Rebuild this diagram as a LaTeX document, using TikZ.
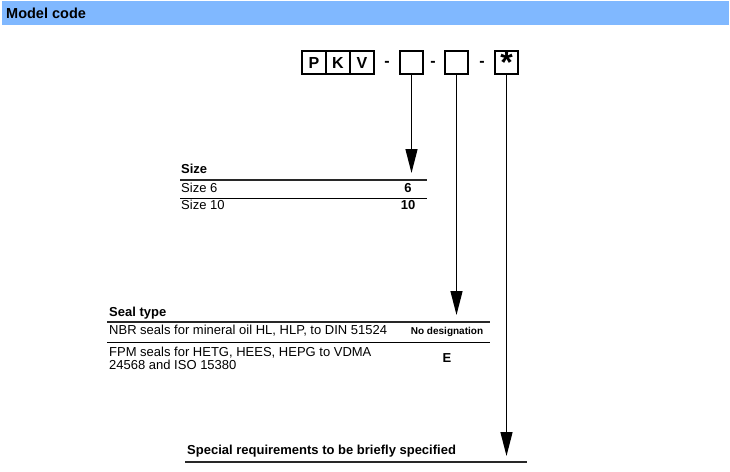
\documentclass[tikz,border=0pt]{standalone}
\usepackage{fontspec}
\setmainfont{Liberation Sans}
\usetikzlibrary{arrows.meta}
\definecolor{hdr}{RGB}{128,184,255}
\definecolor{rule}{RGB}{40,40,40}
\tikzset{
  txt/.style={anchor=base west, inner sep=0pt, font=\fontsize{13}{13}\selectfont},
  btxt/.style={anchor=base west, inner sep=0pt, font=\bfseries\fontsize{13}{13}\selectfont},
  ctxt/.style={anchor=base, inner sep=0pt, font=\bfseries\fontsize{13}{13}\selectfont},
  codebox/.style={draw, line width=1.1pt, minimum width=24pt, minimum height=23pt, inner sep=0pt, font=\bfseries\fontsize{16}{16}\selectfont},
  sep/.style={inner sep=0pt, font=\bfseries\fontsize{16}{16}\selectfont},
  headrule/.style={draw=rule, line width=1.4pt},
  rowrule/.style={draw=black, line width=0.9pt},
  arr/.style={line width=1.3pt, -{Triangle[length=24pt, width=12pt]}}
}
\begin{document}
\begin{tikzpicture}[x=1pt,y=-1pt]
\useasboundingbox (0,0) rectangle (730,471);
\fill[hdr] (2,1) rectangle (729,25);
\node[anchor=base west, inner sep=0pt, font=\bfseries\fontsize{14.5}{14.5}\selectfont] (title) at (6,18.5) {Model code};

% code boxes
\node[codebox] (p) at (314,62.5) {P};
\node[codebox] (k) at (338,62.5) {K};
\node[codebox] (v) at (362,62.5) {V};
\node[sep] (d1) at (387,64) {-};
\node[codebox, minimum width=23pt] (b1) at (411.5,62.5) {};
\node[sep] (d2) at (433,64) {-};
\node[codebox, minimum width=23pt] (b2) at (456.5,62.5) {};
\node[sep] (d3) at (482,64) {-};
\node[codebox, minimum width=23pt, font=\bfseries\fontsize{32}{32}\selectfont] (b3) at (506.5,62.5) {\raisebox{-10pt}{*}};

% size table
\node[btxt] (sizeh) at (181,173) {Size};
\draw[headrule] (180,180) -- (427,180);
\node[txt] (s6) at (181,192) {Size 6};
\node[ctxt] (v6) at (408,192) {6};
\draw[rowrule] (180,198) -- (427,198);
\node[txt] (s10) at (181,209.5) {Size 10};
\node[ctxt] (v10) at (408,209.5) {10};
\coordinate (t1) at (411.5,173);

% seal table
\node[btxt] (sealh) at (109,316) {Seal type};
\draw[headrule] (107,322) -- (490,322);
\node[txt] (nbr) at (109,334.5) {NBR seals for mineral oil HL, HLP, to DIN 51524};
\node[anchor=base, inner sep=0pt, font=\bfseries\fontsize{10}{10}\selectfont] (nodes) at (447,334.5) {No designation};
\draw[rowrule] (107,342) -- (490,342);
\node[txt] (fpm1) at (109,356) {FPM seals for HETG, HEES, HEPG to VDMA};
\node[txt] (fpm2) at (109,369) {24568 and ISO 15380};
\node[ctxt] (ve) at (447,362) {E};
\coordinate (t2) at (456.5,315);

% special
\node[btxt] (spec) at (187,454.5) {Special requirements to be briefly specified};
\draw[headrule] (185,462) -- (527,462);
\coordinate (t3) at (506.5,456);

% arrows
\draw[arr] (b1.south) -- (t1);
\draw[arr] (b2.south) -- (t2);
\draw[arr] (b3.south) -- (t3);
\end{tikzpicture}
\end{document}
